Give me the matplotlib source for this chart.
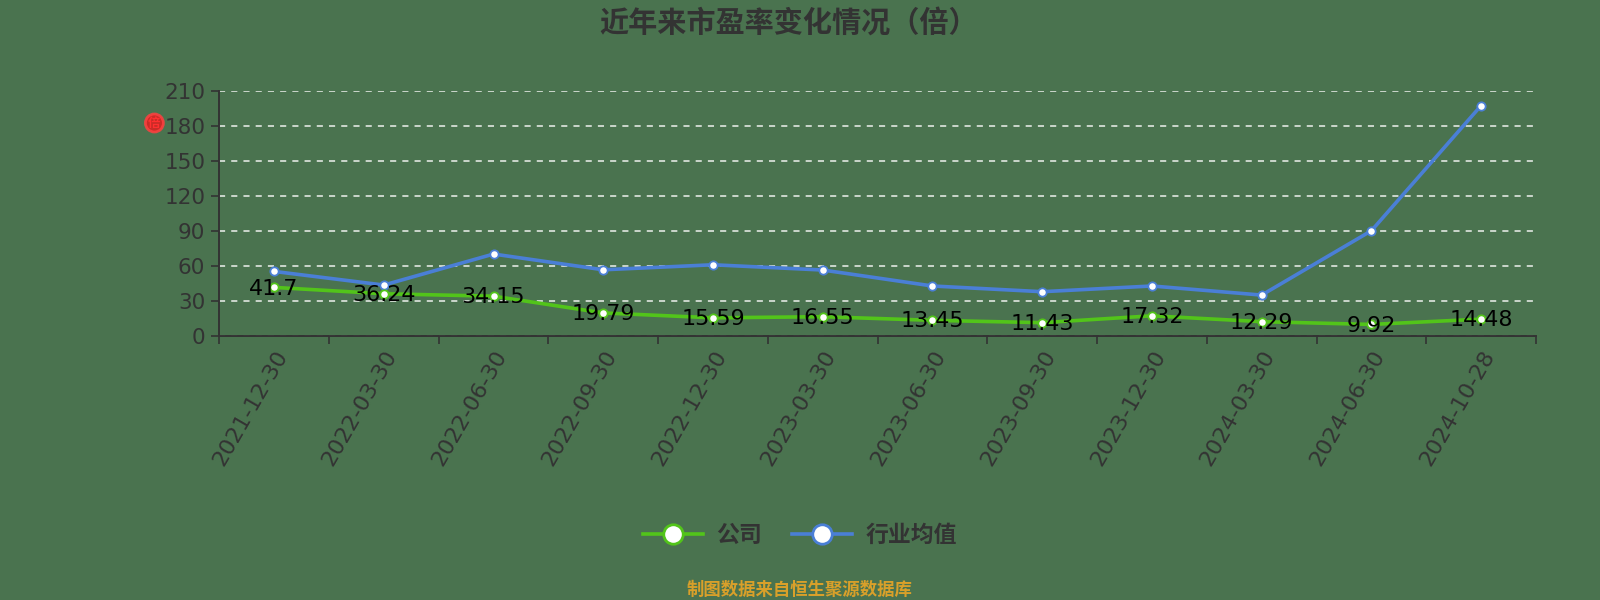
import matplotlib
matplotlib.use('Agg')
import matplotlib.pyplot as plt
from matplotlib.lines import Line2D

plt.rcParams['font.family'] = ['DejaVu Sans', 'Noto Sans CJK SC']

# data
dates = ['2021-12-30', '2022-03-30', '2022-06-30', '2022-09-30', '2022-12-30', '2023-03-30',
         '2023-06-30', '2023-09-30', '2023-12-30', '2024-03-30', '2024-06-30', '2024-10-28']
company = [41.7, 36.24, 34.15, 19.79, 15.59, 16.55, 13.45, 11.43, 17.32, 12.29, 9.92, 14.48]
industry = [55.4, 43.7, 70.3, 56.8, 61.1, 56.6, 42.9, 38.0, 42.9, 35.1, 90.3, 197.7]
yticks = [0, 30, 60, 90, 120, 150, 180, 210]

bg = '#4a734f'
green = '#52c41a'
blue = '#4a7fd6'
txt = '#333333'
cjk = ['Noto Sans CJK SC', 'DejaVu Sans']

fig = plt.figure(figsize=(16, 6), dpi=100, facecolor=bg)
ax = fig.add_axes([0.137, 0.44, 0.823, 0.408])
ax.set_facecolor(bg)

x = list(range(len(dates)))
ax.plot(x, industry, color=blue, lw=2.6, marker='o', ms=6,
        mfc='white', mec=blue, mew=1.3, zorder=3)
ax.plot(x, company, color=green, lw=2.6, marker='o', ms=6,
        mfc='white', mec=green, mew=1.3, zorder=3)

for xi, v in zip(x, company):
    ax.text(xi, v - 1, '{0:g}'.format(v), ha='center', va='center',
            fontsize=16, color='black', zorder=4)

ax.set_xlim(-0.5, len(dates) - 0.5)
ax.set_ylim(0, 210)
ax.set_yticks(yticks)
ax.set_xticks([i - 0.5 for i in range(len(dates) + 1)], minor=False)
ax.set_xticklabels([])
ax.set_xticks(x, minor=True)
ax.set_xticklabels(dates, minor=True, rotation=60, ha='right',
                   rotation_mode='anchor', fontsize=16, color=txt)
ax.tick_params(axis='x', which='minor', length=0, pad=8)
ax.tick_params(axis='x', which='major', length=6, color=txt, width=1.2)
ax.tick_params(axis='y', length=6, color=txt, width=1.2, labelsize=15.5,
               labelcolor=txt, pad=4)

ax.yaxis.grid(True, color='white', ls=(0, (4, 4)), lw=1.1, alpha=0.9)
ax.set_axisbelow(True)
for s in ['top', 'right']:
    ax.spines[s].set_visible(False)
for s in ['left', 'bottom']:
    ax.spines[s].set_color(txt)
    ax.spines[s].set_linewidth(1.4)

# small red unit marker next to the y axis
fig.text(0.0965, 0.795, '倍', color='#ff3030', fontsize=9, fontweight='bold',
         ha='center', va='center', family=cjk,
         bbox=dict(boxstyle='circle,pad=0.2', fc='#e02020', ec='#ff4040', lw=2, alpha=0.85))

fig.text(0.493, 0.962, '近年来市盈率变化情况（倍）', ha='center', va='center',
         fontsize=21, fontweight='bold', color=txt, family=cjk)

handles = [Line2D([0], [0], color=green, lw=2.6, marker='o', ms=14, mfc='white', mec=green, mew=2),
           Line2D([0], [0], color=blue, lw=2.6, marker='o', ms=14, mfc='white', mec=blue, mew=2)]
leg = fig.legend(handles, ['公司', '行业均值'], loc='center', bbox_to_anchor=(0.5, 0.108),
                 ncol=2, frameon=False, handlelength=2.6, columnspacing=1.3,
                 handletextpad=0.6, prop={'family': cjk, 'size': 16.5, 'weight': 'bold'})
for t in leg.get_texts():
    t.set_color(txt)

fig.text(0.5, 0.017, '制图数据来自恒生聚源数据库', ha='center', va='center',
         fontsize=12.5, color='#d9a02a', family=cjk, fontweight='bold')

fig.savefig('out.png', dpi=100, facecolor=bg)
